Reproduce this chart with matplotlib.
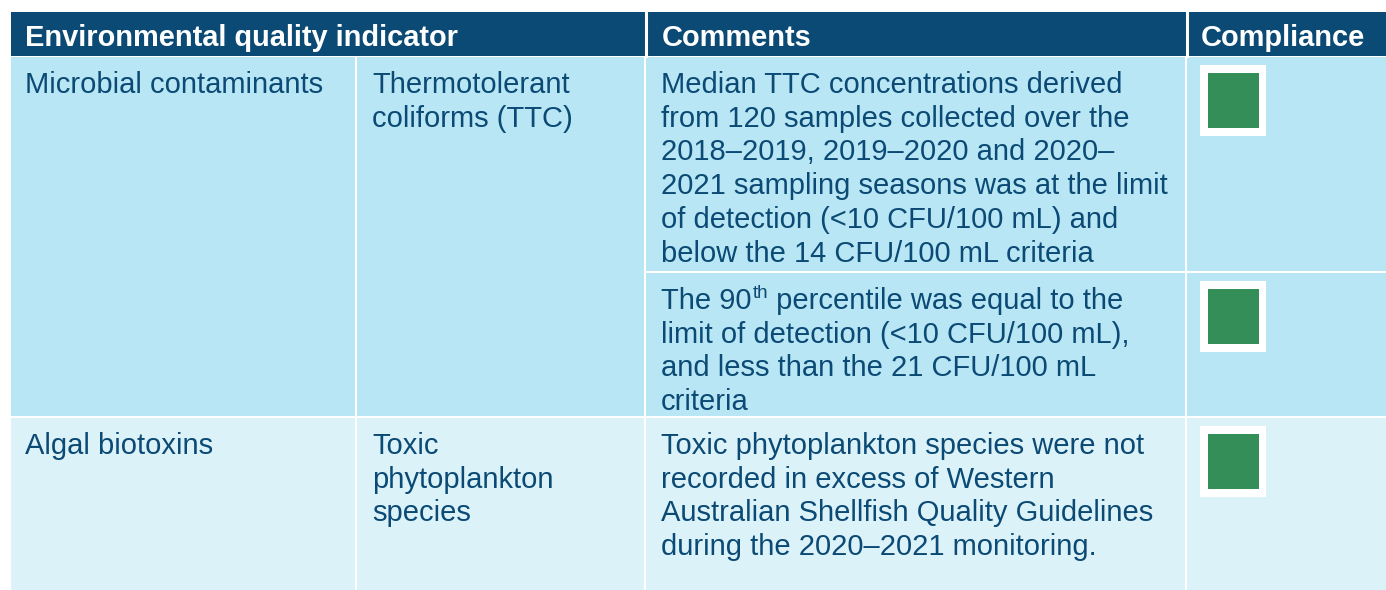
import matplotlib.pyplot as plt
from matplotlib.patches import Rectangle

plt.rcParams['font.family'] = ['Liberation Sans', 'DejaVu Sans']

header_main = 'Environmental quality indicator'
header_comments = 'Comments'
header_compliance = 'Compliance'

indicators = ['Microbial contaminants', 'Algal biotoxins']
sub_indicators = ['Thermotolerant\ncoliforms (TTC)', 'Toxic\nphytoplankton\nspecies']
comments = [
    'Median TTC concentrations derived\nfrom 120 samples collected over the\n'
    '2018\u20132019, 2019\u20132020 and 2020\u2013\n2021 sampling seasons was at the limit\n'
    'of detection (<10 CFU/100 mL) and\nbelow the 14 CFU/100 mL criteria',
    'The 90^{th} percentile was equal to the\nlimit of detection (<10 CFU/100 mL),\n'
    'and less than the 21 CFU/100 mL\ncriteria',
    'Toxic phytoplankton species were not\nrecorded in excess of Western\n'
    'Australian Shellfish Quality Guidelines\nduring the 2020\u20132021 monitoring.',
]
comment_group = [0, 0, 1]        # which indicator row each comment belongs to
compliant = [True, True, True]

dark = '#0b4a74'
row_colors = ['#b8e6f5', '#dcf2f9']
green = '#338f57'

# layout in pixels
left, right = 11, 1386
col_x = [11, 357, 646, 1187, 1386]
head_top, head_bot = 12, 56
group_bounds = [(57, 416), (418, 590)]
comment_bounds = [(57, 271), (273, 416), (418, 590)]
line_h = 33.7
fs = 21

fig = plt.figure(figsize=(13.86, 5.90), dpi=100)
ax = fig.add_axes([0, 0, 1, 1])
ax.set_xlim(0, 1386)
ax.set_ylim(590, 0)
ax.axis('off')


def draw_lines(x, y_base, text):
    for i, line in enumerate(text.split('\n')):
        y = y_base + i * line_h
        if '^{' in line:
            pre, rest = line.split('^{', 1)
            sup, post = rest.split('}', 1)
            t = ax.text(x, y, pre, color=dark, fontsize=fs, va='baseline')
            fig.canvas.draw()
            x1 = t.get_window_extent().x1
            t2 = ax.text(x1 + 1, y - 11, sup, color=dark, fontsize=13.5, va='baseline')
            fig.canvas.draw()
            x2 = t2.get_window_extent().x1
            ax.text(x2, y, post, color=dark, fontsize=fs, va='baseline')
        else:
            ax.text(x, y, line, color=dark, fontsize=fs, va='baseline')


# header
ax.add_patch(Rectangle((left, head_top), right - left, head_bot - head_top, color=dark, lw=0))
for x in [646, 1187]:
    ax.plot([x, x], [head_top, head_bot], color='white', lw=2.2)
hdr = dict(color='white', fontsize=20.9, fontweight='bold', va='baseline')
ax.text(25, 45.5, header_main, **hdr)
ax.text(662, 45.5, header_comments, **hdr)
ax.text(1201, 45.5, header_compliance, **hdr)

for i, (y0, y1) in enumerate(group_bounds):
    for c in range(2):
        ax.add_patch(Rectangle((col_x[c], y0), col_x[c + 1] - col_x[c] - 2, y1 - y0,
                               color=row_colors[i], lw=0))
    draw_lines(25, y0 + 36, indicators[i])
    draw_lines(372, y0 + 36, sub_indicators[i])

for k, (y0, y1) in enumerate(comment_bounds):
    g = comment_group[k]
    ax.add_patch(Rectangle((col_x[2], y0), col_x[3] - col_x[2] - 2, y1 - y0,
                           color=row_colors[g], lw=0))
    ax.add_patch(Rectangle((col_x[3], y0), col_x[4] - col_x[3], y1 - y0,
                           color=row_colors[g], lw=0))
    draw_lines(661, y0 + 36, comments[k])
    if compliant[k]:
        ax.add_patch(Rectangle((1200, y0 + 8), 66, 71, color='white', lw=0))
        ax.add_patch(Rectangle((1208, y0 + 16), 51, 55, color=green, lw=0))

fig.savefig('out.png', dpi=100)
